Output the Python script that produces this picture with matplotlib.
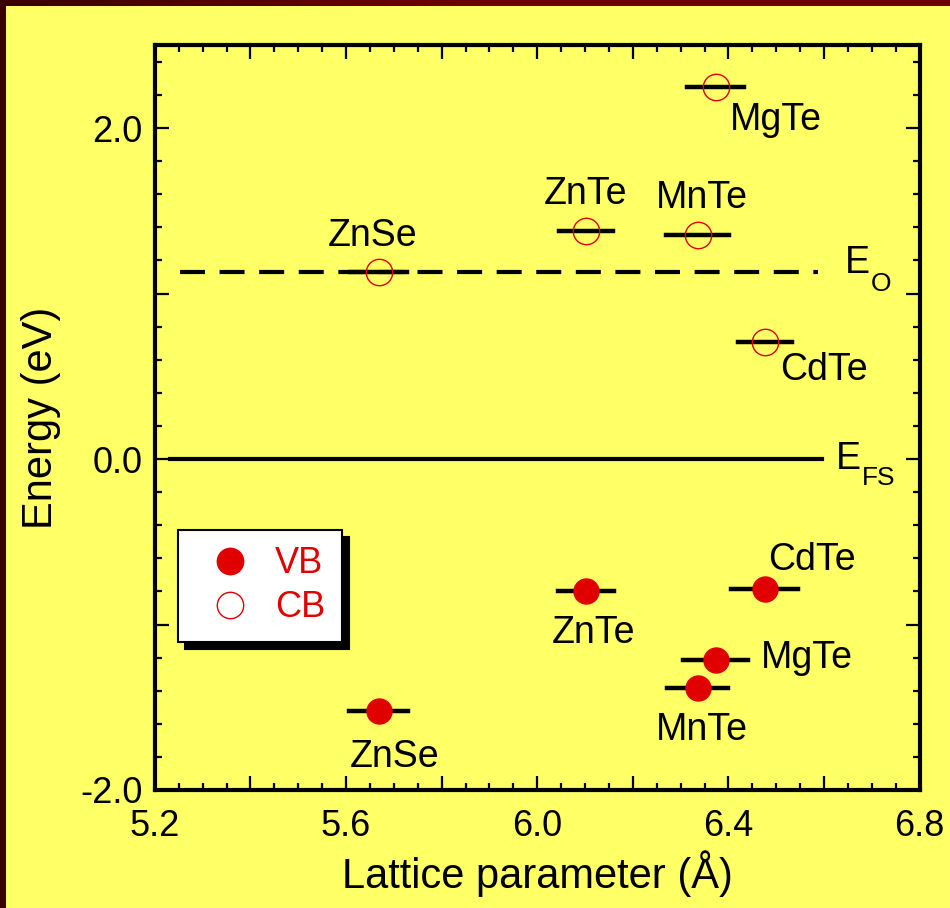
import matplotlib
matplotlib.use('Agg')
import matplotlib.pyplot as plt
import numpy as np
from matplotlib.ticker import MultipleLocator
from matplotlib.lines import Line2D
from matplotlib.colors import LinearSegmentedColormap

plt.rcParams['font.family'] = ['Liberation Sans', 'DejaVu Sans']

# conduction band edges (open circles)
cb_names = ['MgTe', 'ZnTe', 'MnTe', 'ZnSe', 'CdTe']
cb_a = [6.373, 6.102, 6.336, 5.668, 6.476]
cb_e = [2.25, 1.38, 1.355, 1.133, 0.71]
cb_da = [0.06, 0.057, 0.066, 0.06, 0.056]

# valence band edges (filled circles)
vb_names = ['CdTe', 'ZnTe', 'MgTe', 'MnTe', 'ZnSe']
vb_a = [6.476, 6.102, 6.373, 6.336, 5.668]
vb_e = [-0.785, -0.795, -1.217, -1.386, -1.524]
vb_da = [0.07, 0.058, 0.069, 0.064, 0.062]

e_o = 1.133
e_fs = 0.0

yellow = '#ffff66'
red = '#e00000'

fig = plt.figure(figsize=(9.5, 9.08), dpi=100, facecolor=yellow)

# dark red frame on top and left
frame_cmap = LinearSegmentedColormap.from_list('fr', ['#3a0000', '#6c0000', '#6c0000'])
top = fig.add_axes([0, 1 - 6/908, 1, 6/908])
top.imshow(np.linspace(0, 1, 200)[None, :], aspect='auto', cmap=frame_cmap)
top.axis('off')
left = fig.add_axes([0, 0, 6/950, 1])
left.imshow(np.zeros((2, 2)), aspect='auto', cmap=frame_cmap, vmin=0, vmax=1)
left.axis('off')

ax = fig.add_axes([0.163, 0.130, 0.805, 0.820])
ax.set_facecolor(yellow)

# reference levels
ax.plot([5.252, 6.588], [e_o, e_o], color='black', lw=3, dashes=(6, 3.5))
ax.plot([5.231, 6.595], [e_fs, e_fs], color='black', lw=3)
ax.annotate('E', (6.643, e_o), xytext=(0, 6), textcoords='offset points',
            fontsize=27, ha='left', va='center')
ax.annotate('O', (6.643, e_o), xytext=(19, -9), textcoords='offset points',
            fontsize=19, ha='left', va='center')
ax.annotate('E', (6.625, e_fs), xytext=(0, 0), textcoords='offset points',
            fontsize=27, ha='left', va='center')
ax.annotate('FS', (6.625, e_fs), xytext=(19, -14), textcoords='offset points',
            fontsize=19, ha='left', va='center')

# bars
for a, e, d in zip(cb_a, cb_e, cb_da):
    ax.plot([a - d, a + d], [e, e], color='black', lw=3.2, zorder=3)
for a, e, d in zip(vb_a, vb_e, vb_da):
    ax.plot([a - d, a + d], [e, e], color='black', lw=3.2, zorder=3)

ax.plot(vb_a, vb_e, 'o', ms=18, color=red, mec=red, zorder=4, ls='none')
ax.plot(cb_a, cb_e, 'o', ms=19, mfc='none', mec=red, mew=1, zorder=4, ls='none')

# compound labels
cb_lab = {'MgTe': (6.50, 2.05), 'ZnTe': (6.102, 1.60), 'MnTe': (6.345, 1.58),
          'ZnSe': (5.655, 1.35), 'CdTe': (6.60, 0.54)}
vb_lab = {'CdTe': (6.575, -0.61), 'ZnTe': (6.117, -1.05), 'MgTe': (6.565, -1.20),
          'MnTe': (6.345, -1.64), 'ZnSe': (5.702, -1.80)}
for n, (x, y) in cb_lab.items():
    ax.text(x, y, n, fontsize=27, ha='center', va='center')
for n, (x, y) in vb_lab.items():
    ax.text(x, y, n, fontsize=27, ha='center', va='center')

ax.set_xlim(5.2, 6.8)
ax.set_ylim(-2.0, 2.5)
ax.xaxis.set_minor_locator(MultipleLocator(0.05))
ax.yaxis.set_minor_locator(MultipleLocator(0.2))
ax.set_xticks([5.2, 5.4, 5.6, 5.8, 6.0, 6.2, 6.4, 6.6, 6.8])
ax.set_xticklabels(['5.2', '', '5.6', '', '6.0', '', '6.4', '', '6.8'])
ax.set_yticks([-2, -1, 0, 1, 2])
ax.set_yticklabels(['-2.0', '', '0.0', '', '2.0'])
ax.tick_params(which='both', direction='in', top=True, right=True, width=1.6, labelsize=26)
ax.tick_params(which='major', length=10)
ax.tick_params(which='minor', length=5)
ax.tick_params(axis='x', pad=14)
ax.tick_params(axis='y', pad=9)
for s in ax.spines.values():
    s.set_linewidth(3)

ax.set_xlabel('Lattice parameter (Å)', fontsize=30, labelpad=4)
ax.set_ylabel('Energy (eV)', fontsize=30, labelpad=14)

handles = [Line2D([], [], marker='o', ls='none', ms=19, color=red),
           Line2D([], [], marker='o', ls='none', ms=19, mfc='none', mec=red, mew=1)]
leg = ax.legend(handles, ['VB', 'CB'], loc='upper left', bbox_to_anchor=(0.030, 0.349),
                fontsize=26, labelcolor=red, frameon=True, fancybox=False,
                shadow={'color': 'black', 'alpha': 1, 'ox': 5, 'oy': -5},
                edgecolor='black', handletextpad=0.25, borderpad=0.45, labelspacing=0.25,
                handlelength=2.0, borderaxespad=0)
leg.get_frame().set_linewidth(1.5)

fig.savefig('out.png', dpi=100, facecolor=yellow)
